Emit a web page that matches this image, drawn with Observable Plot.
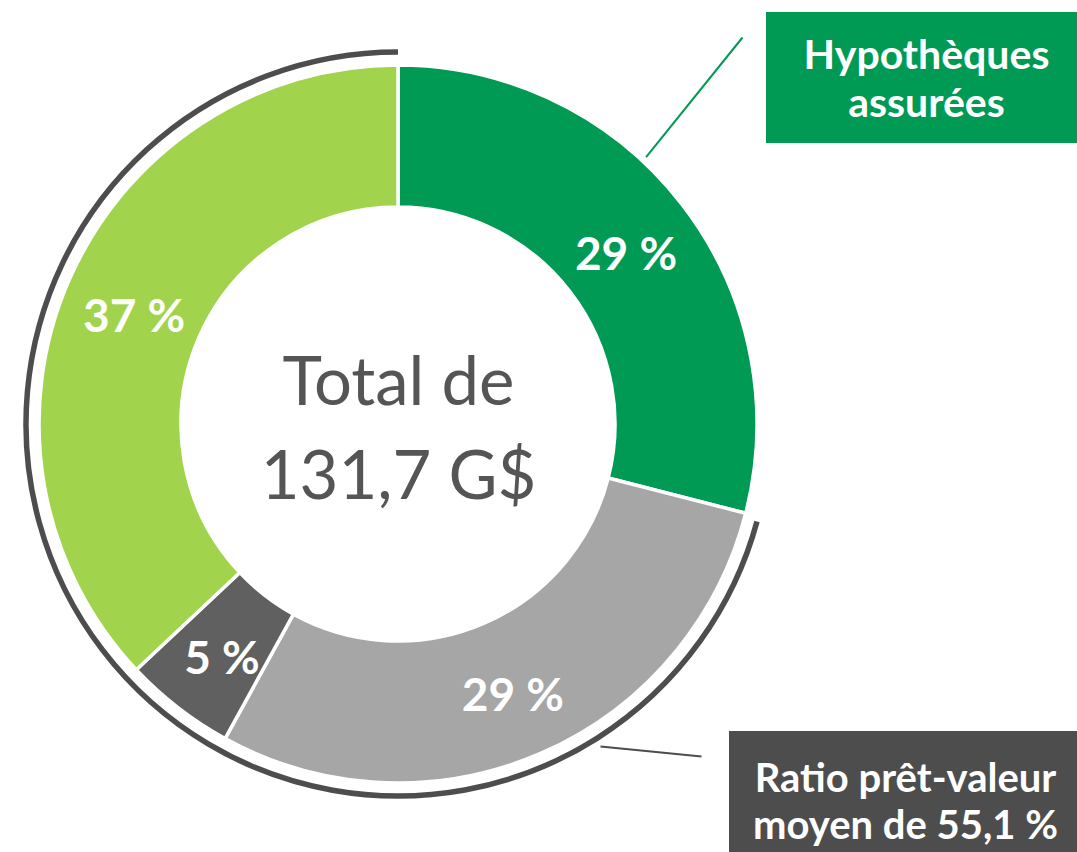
<!DOCTYPE html>
<html>
<head>
<meta charset="utf-8">
<script src="https://cdn.jsdelivr.net/npm/d3@7"></script>
<script src="https://cdn.jsdelivr.net/npm/@observablehq/plot@0.6"></script>
<style>
  html, body { margin: 0; padding: 0; background: #ffffff; }
  #chart svg { display: block; }
</style>
</head>
<body>
<div id="chart"></div>
<script>
// ---- data ----
const categories = ["Hypothèques assurées", "Non assurées (A)", "Non assurées (B)", "Non assurées (C)"];
const shares = [29, 29, 5, 37];
const shareLabels = ["29 %", "29 %", "5 %", "37 %"];
const colors = ["#009a55", "#a6a6a6", "#606060", "#a1d44c"];
const centerLines = ["Total de", "131,7 G$"];
const calloutInsured = ["Hypothèques", "assurées"];
const calloutLtv = ["Ratio prêt-valeur", "moyen de 55,1 %"];

// ---- layout (in units of the donut's outer radius) ----
const W = 1077, H = 852;
const R = 359;                 // outer radius in px
const cxPx = 398, cyPx = 424;  // centre in px
const inner = 217 / R, outer = 1, ring = 372 / R;

const pie = d3.pie().sort(null).value(d => d)(shares);
const slices = pie.map((p, i) => {
  const a = (p.startAngle + p.endAngle) / 2, r = (inner + outer) / 2;
  return {category: categories[i], label: shareLabels[i], x: r * Math.sin(a), y: r * Math.cos(a)};
});

const polar = (a, r) => ({x: r * Math.sin(a), y: r * Math.cos(a)});
const insuredEnd = pie[0].endAngle;

// callout leader lines
const leaderA = polar(insuredEnd * 0.41, 1.015), leaderAEnd = {x: (742 - cxPx) / R, y: (cyPx - 37) / R};
const leaders = [
  {x1: leaderA.x, y1: leaderA.y, x2: leaderAEnd.x, y2: leaderAEnd.y, c: "#009a55"},
  {x1: (600 - cxPx) / R, y1: (cyPx - 746) / R, x2: (701 - cxPx) / R, y2: (cyPx - 756) / R, c: "#4d4d4d"}
];

const boxes = [
  {x1: (766 - cxPx) / R, x2: (1080 - cxPx) / R, y1: (cyPx - 12) / R, y2: (cyPx - 143) / R, fill: "#009a55"},
  {x1: (729 - cxPx) / R, x2: (1080 - cxPx) / R, y1: (cyPx - 731) / R, y2: (cyPx - 855) / R, fill: "#4d4d4d"}
];
const boxTexts = [
  {x: (926 - cxPx) / R, y: (cyPx - 77) / R, t: calloutInsured.join("\n"), lh: 1.17, fs: 41},
  {x: (905 - cxPx) / R, y: (cyPx - 800) / R, t: calloutLtv.join("\n"), lh: 1.17, fs: 40}
];

function donut(index, scales) {
  const {x, y} = scales;
  const k = x(1) - x(0);
  const g = d3.create("svg:g").attr("transform", `translate(${x(0)},${y(0)})`);
  const arc = d3.arc().innerRadius(inner * k).outerRadius(outer * k);
  g.selectAll("path.slice").data(pie).join("path")
    .attr("class", "slice")
    .attr("d", arc)
    .attr("fill", (d, i) => colors[i])
    .attr("stroke", "#ffffff")
    .attr("stroke-width", 3.5)
    .attr("stroke-linejoin", "round");
  // bracket arc around the uninsured part
  const p = d3.path();
  const a0 = insuredEnd + 0.014, a1 = 2 * Math.PI;
  const rr = ring * k;
  p.arc(0, 0, rr, a0 - Math.PI / 2, a1 - Math.PI / 2);
  g.append("path").attr("d", p.toString())
    .attr("fill", "none").attr("stroke", "#4d4d4d").attr("stroke-width", 5.5);
  return g.node();
}

const plot = Plot.plot({
  width: W,
  height: H,
  margin: 0,
  x: {domain: [-cxPx / R, (W - cxPx) / R], axis: null},
  y: {domain: [-(H - cyPx) / R, cyPx / R], axis: null},
  style: {background: "#ffffff"},
  marks: [
    donut,
    Plot.link(leaders, {x1: "x1", y1: "y1", x2: "x2", y2: "y2", stroke: "c", strokeWidth: 2}),
    Plot.rect(boxes, {x1: "x1", x2: "x2", y1: "y1", y2: "y2", fill: "fill"}),
    ...boxTexts.map(b => Plot.text([b], {x: "x", y: "y", text: "t", fill: "#ffffff", fontSize: b.fs, fontWeight: "bold",
      fontFamily: "Lato", textAnchor: "middle", lineAnchor: "middle", lineHeight: b.lh})),
    Plot.text(slices, {x: "x", y: "y", text: "label", fill: "#ffffff", fontSize: 46, fontWeight: "bold",
      fontFamily: "Lato", textAnchor: "middle", lineAnchor: "middle", dy: 7}),
    Plot.text(centerLines, {x: 0, y: (d, i) => (i === 0 ? 41 : -53) / R, text: d => d, fill: "#555555",
      fontSize: 67, fontFamily: "Lato", textAnchor: "middle", lineAnchor: "middle"})
  ]
});
document.getElementById("chart").appendChild(plot);
</script>
</body>
</html>
